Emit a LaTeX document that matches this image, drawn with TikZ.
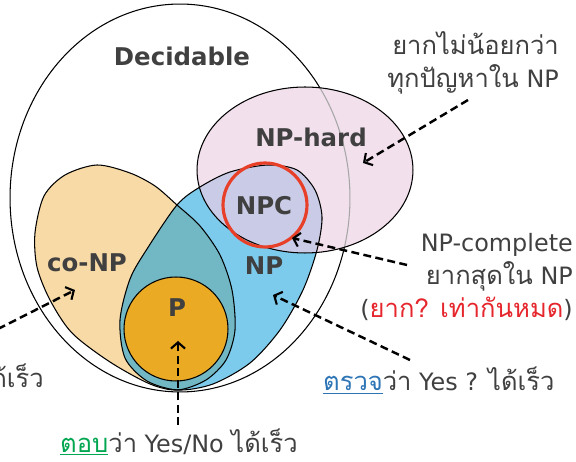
\documentclass[tikz,border=0pt]{standalone}
\usepackage{fontspec}
\setmainfont{DejaVu Sans}
\newfontfamily\thaifont[Script=Thai,Scale=1.07]{Loma}
\usetikzlibrary{arrows.meta}

\definecolor{textgray}{RGB}{64,64,64}
\definecolor{conpfill}{RGB}{248,218,166}
\definecolor{npfill}{RGB}{125,203,236}
\definecolor{bothfill}{RGB}{113,183,196}
\definecolor{hardfill}{RGB}{242,224,236}
\definecolor{npcfill}{RGB}{202,203,230}
\definecolor{pfill}{RGB}{235,170,36}
\definecolor{npcred}{RGB}{232,64,40}
\definecolor{hardred}{RGB}{230,38,45}
\definecolor{checkblue}{RGB}{46,117,182}
\definecolor{answergreen}{RGB}{0,166,80}

% outlines of the classes (pixel coordinates)
\newcommand{\conpshape}{plot[smooth cycle] coordinates {(97,165) (130,173) (155,186) (177,205) (200,226) (220,255) (232,290) (235,330) (226,360) (206,380) (178,390) (150,384) (110,362) (72,333) (50,300) (37,267) (35,233) (44,196) (65,175)}}
\newcommand{\npshape}{plot[smooth cycle] coordinates {(178,390) (147,381) (125,358) (120,320) (130,279) (147,249) (177,205) (200,187) (230,172) (268,165) (297,170) (315,190) (322,217) (317,250) (303,290) (280,330) (250,363) (213,384)}}
\newcommand{\hardshape}{(305,170) ellipse [x radius=2.16cm, y radius=1.66cm]}
\newcommand{\decshape}{(180,198) ellipse [x radius=3.4cm, y radius=3.88cm]}

\begin{document}
\begin{tikzpicture}[
        x=0.02cm, y=-0.02cm,
        outline/.style={draw=black, line width=0.6pt},
        setname/.style={font=\bfseries\fontsize{13.9}{16}\selectfont, text=textgray},
        note/.style={font=\fontsize{13.6}{19}\selectfont, text=textgray, align=right},
        arrow/.style={-{Straight Barb[length=3.5pt,width=8pt,line width=1.2pt]}, line width=1.4pt, dash pattern=on 4.5pt off 2.5pt}
    ]
        \useasboundingbox (0,0) rectangle (576,462);
        \clip (0,0) rectangle (576,462);

        % Decidable
        \draw[outline] \decshape;

        % co-NP and NP with their overlap
        \fill[conpfill] \conpshape;
        \fill[npfill] \npshape;
        \begin{scope}
            \clip \conpshape;
            \fill[bothfill] \npshape;
        \end{scope}

        % NP-hard, lighter where it meets NP
        \fill[hardfill] \hardshape;
        \begin{scope}
            \clip \npshape;
            \fill[npcfill] \hardshape;
        \end{scope}
        \begin{scope}
            \clip \hardshape;
            \draw[gray!70, line width=0.6pt] \decshape;
        \end{scope}

        % borders
        \draw[outline] \conpshape;
        \draw[outline] \npshape;
        \draw[outline] \hardshape;

        % P
        \draw[outline, fill=pfill] (176,329) circle [radius=1.04cm];

        % NPC
        \draw[npcred, line width=1.8pt] (265,205) circle [radius=0.84cm];

        % Set names
        \node[setname] (Dec) at (182,56) {Decidable};
        \node[setname] (Hard) at (311,137) {NP-hard};
        \node[setname] (NPC) at (264,206) {NPC};
        \node[setname] (coNP) at (87,263) {co-NP};
        \node[setname] (NP) at (264,266) {NP};
        \node[setname] (P) at (177,308) {P};

        % Notes
        \node[note, anchor=east] (hardnote) at (565,63) {{\thaifont ยากไม่น้อยกว่า}\\{\thaifont ทุกปัญหาใน} NP};
        \node[note, anchor=east] (npcnote) at (579,277) {NP-complete\\{\thaifont ยากสุดใน} NP\\({\thaifont\color{hardred}ยาก? เท่ากันหมด})};
        \node[note, anchor=west] (npnote) at (317,381) {{\thaifont{\color{checkblue}\underline{ตรวจ}}ว่า} Yes ? {\thaifont ได้เร็ว}};
        \node[note, anchor=west] (pnote) at (54,442) {{\thaifont{\color{answergreen}\underline{ตอบ}}ว่า} Yes/No {\thaifont ได้เร็ว}};
        \node[note, anchor=east] (conpnote) at (50,376) {\thaifont ได้เร็ว};

        % Arrow ends
        \coordinate (hardfrom) at (468,100);
        \coordinate (hardto) at (363,163);
        \coordinate (npcfrom) at (407,265);
        \coordinate (npcto) at (292,238);
        \coordinate (npfrom) at (410,360);
        \coordinate (npto) at (273,295);
        \coordinate (pfrom) at (178,425);
        \coordinate (pto) at (178,341);
        \coordinate (conpfrom) at (-2,329);
        \coordinate (conpto) at (75,290);

        \draw[arrow] (hardfrom) -- (hardto);
        \draw[arrow] (npcfrom) -- (npcto);
        \draw[arrow] (npfrom) -- (npto);
        \draw[arrow] (pfrom) -- (pto);
        \draw[arrow] (conpfrom) -- (conpto);
    \end{tikzpicture}
\end{document}
